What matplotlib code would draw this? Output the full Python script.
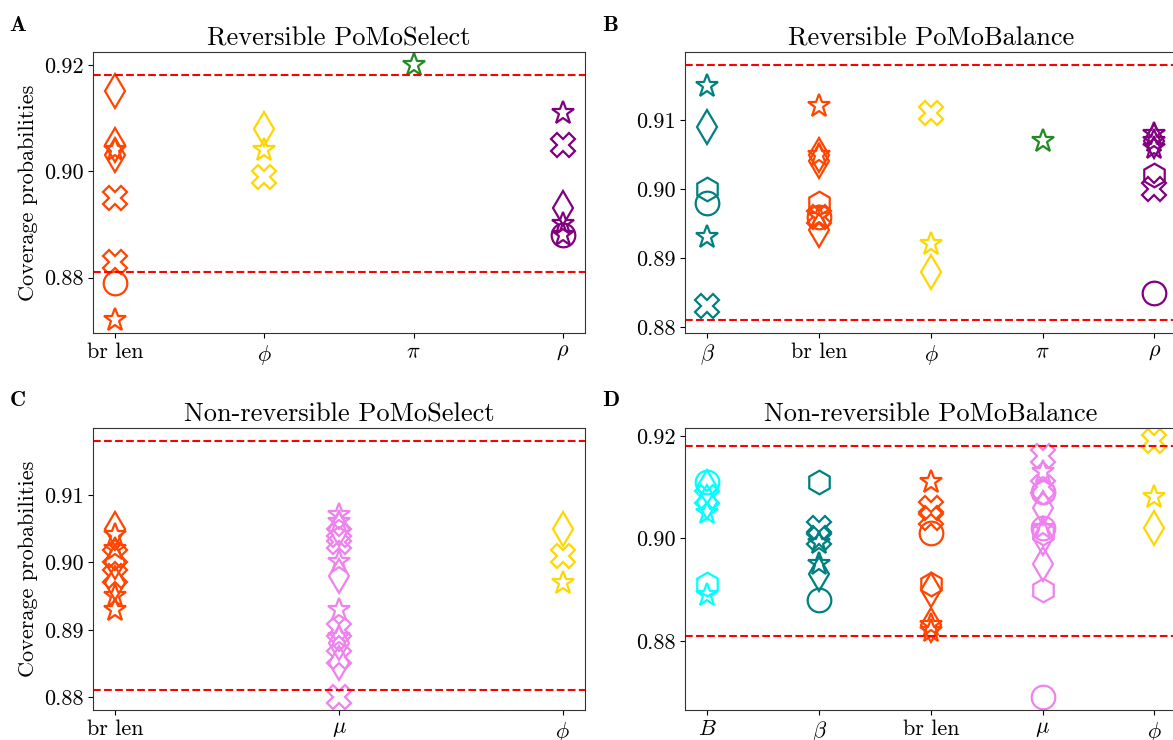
import matplotlib
matplotlib.use("Agg")
import matplotlib.pyplot as plt

plt.rcParams["font.family"] = "cmr10"
plt.rcParams["mathtext.fontset"] = "cm"
plt.rcParams["axes.formatter.use_mathtext"] = True

# 90% coverage band
lower, upper = 0.881, 0.918

colours = {
    "B": "cyan",
    "beta": "teal",
    "br len": "orangered",
    "mu": "violet",
    "phi": "gold",
    "pi": "forestgreen",
    "rho": "purple",
}
tick_names = {
    "B": "$B$",
    "beta": r"$\beta$",
    "br len": "br len",
    "mu": r"$\mu$",
    "phi": r"$\phi$",
    "pi": r"$\pi$",
    "rho": r"$\rho$",
}

# Reversible PoMoSelect
a_params = ["br len", "phi", "pi", "rho"]
a_values = [
    [0.915, 0.905, 0.904, 0.903, 0.895, 0.883, 0.879, 0.872],
    [0.908, 0.904, 0.899],
    [0.920],
    [0.911, 0.905, 0.893, 0.890, 0.888, 0.888],
]
a_markers = [
    ["d", "d", "*", "d", "X", "X", "o", "*"],
    ["d", "*", "X"],
    ["*"],
    ["*", "X", "d", "*", "o", "*"],
]

# Reversible PoMoBalance
b_params = ["beta", "br len", "phi", "pi", "rho"]
b_values = [
    [0.915, 0.909, 0.900, 0.898, 0.893, 0.883],
    [0.912, 0.905, 0.905, 0.904, 0.898, 0.896, 0.896, 0.896, 0.894],
    [0.911, 0.892, 0.888],
    [0.907],
    [0.908, 0.907, 0.907, 0.906, 0.902, 0.900, 0.885],
]
b_markers = [
    ["*", "d", "h", "o", "*", "X"],
    ["*", "d", "*", "d", "h", "o", "X", "*", "d"],
    ["X", "*", "d"],
    ["*"],
    ["*", "d", "*", "*", "h", "X", "o"],
]

# Non-reversible PoMoSelect
c_params = ["br len", "mu", "phi"]
c_values = [
    [0.905, 0.904, 0.902, 0.901, 0.900, 0.898, 0.897, 0.895, 0.893],
    [0.907, 0.906, 0.905, 0.904, 0.903, 0.900, 0.898, 0.893, 0.890,
     0.889, 0.888, 0.886, 0.885, 0.880],
    [0.905, 0.901, 0.897],
]
c_markers = [
    ["d", "*", "*", "X", "d", "X", "d", "*", "*"],
    ["*", "*", "d", "X", "X", "*", "d", "*", "X", "*", "d", "X", "d", "X"],
    ["d", "X", "*"],
]

# Non-reversible PoMoBalance
d_params = ["B", "beta", "br len", "mu", "phi"]
d_values = [
    [0.911, 0.910, 0.908, 0.907, 0.905, 0.891, 0.889],
    [0.911, 0.902, 0.900, 0.899, 0.895, 0.893, 0.888],
    [0.911, 0.906, 0.904, 0.901, 0.891, 0.890, 0.883, 0.883, 0.882],
    [0.916, 0.913, 0.910, 0.909, 0.909, 0.906, 0.902, 0.902, 0.901,
     0.900, 0.895, 0.890, 0.869],
    [0.919, 0.908, 0.902],
]
d_markers = [
    ["o", "d", "X", "d", "*", "h", "*"],
    ["h", "X", "X", "*", "*", "d", "o"],
    ["*", "X", "X", "o", "h", "d", "d", "*", "*"],
    ["X", "*", "X", "o", "h", "d", "o", "*", "h", "d", "d", "h", "o"],
    ["X", "*", "d"],
]


def draw_panel(ax, params, values, markers, title, yticks):
    for i, (p, vals, marks) in enumerate(zip(params, values, markers)):
        for v, m in zip(vals, marks):
            ax.plot(i, v, marker=m, markersize=17, markerfacecolor="none",
                    markeredgecolor=colours[p], markeredgewidth=1.6,
                    linestyle="none")
    ax.axhline(upper, color="red", linestyle="--", linewidth=1.5)
    ax.axhline(lower, color="red", linestyle="--", linewidth=1.5)
    ax.set_xticks(range(len(params)))
    ax.set_xticklabels([tick_names[p] for p in params])
    ax.set_yticks(yticks)
    ax.set_yticklabels([f"{t:.2f}" for t in yticks])
    ax.tick_params(labelsize=16)
    for spine in ax.spines.values():
        spine.set_color("#333333")
    ax.set_title(title, fontsize=19, pad=5)


fig = plt.figure(figsize=(11.73, 7.40), dpi=100)
ax_a = fig.add_axes([0.0793, 0.55, 0.4194, 0.3797])
ax_b = fig.add_axes([0.584, 0.55, 0.4192, 0.3797])
ax_c = fig.add_axes([0.0793, 0.0405, 0.4194, 0.381])
ax_d = fig.add_axes([0.584, 0.0405, 0.4192, 0.381])

draw_panel(ax_a, a_params, a_values, a_markers, "Reversible PoMoSelect",
           [0.88, 0.90, 0.92])
draw_panel(ax_b, b_params, b_values, b_markers, "Reversible PoMoBalance",
           [0.88, 0.89, 0.90, 0.91])
draw_panel(ax_c, c_params, c_values, c_markers, "Non-reversible PoMoSelect",
           [0.88, 0.89, 0.90, 0.91])
draw_panel(ax_d, d_params, d_values, d_markers, "Non-reversible PoMoBalance",
           [0.88, 0.90, 0.92])

ax_a.set_ylabel("Coverage probabilities", fontsize=16)
ax_c.set_ylabel("Coverage probabilities", fontsize=16)

for letter, x, y in [("A", 0.008, 0.958), ("B", 0.513, 0.958),
                     ("C", 0.008, 0.452), ("D", 0.513, 0.452)]:
    fig.text(x, y, letter, family="cmb10", fontsize=16)

fig.savefig("out.png", dpi=100)
